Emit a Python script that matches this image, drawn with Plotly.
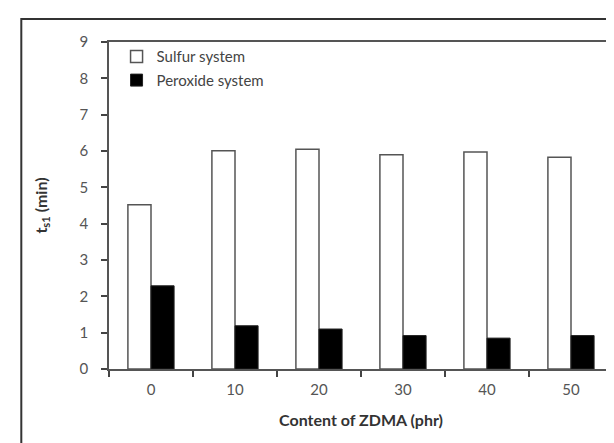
import plotly.graph_objects as go

categories = ["0", "10", "20", "30", "40", "50"]
sulfur = [4.52, 6.01, 6.05, 5.90, 5.97, 5.83]
peroxide = [2.29, 1.19, 1.10, 0.92, 0.85, 0.92]
y_ticks = [0, 1, 2, 3, 4, 5, 6, 7, 8, 9]

FONT = "Lato"

fig = go.Figure()
fig.add_trace(go.Bar(
    x=categories, y=sulfur, name="Sulfur system", legendgroup="s",
    marker=dict(color="white", line=dict(color="#555555", width=1.5)),
))
fig.add_trace(go.Bar(
    x=categories, y=peroxide, name="Peroxide system", legendgroup="p",
    marker=dict(color="black", line=dict(color="#222222", width=1)),
))

fig.update_layout(
    width=614, height=443,
    margin=dict(l=101, r=7, t=34, b=82),
    paper_bgcolor="white", plot_bgcolor="white",
    barmode="group", bargap=0.45, bargroupgap=0,
    font=dict(family=FONT, size=14, color="#444444"),
    showlegend=True,
    legend=dict(x=0.015, y=1.005, xanchor="left", yanchor="top",
                bgcolor="rgba(0,0,0,0)", font=dict(size=15, color="#444444"),
                tracegroupgap=1, itemwidth=30),
    xaxis=dict(
        type="category", tickson="boundaries",
        ticks="outside", ticklen=6, tickcolor="#444444", tickwidth=1.5,
        showline=True, linecolor="#555555", linewidth=1.5, mirror=True,
        showgrid=False, zeroline=False, ticklabelstandoff=6,
        tickfont=dict(size=15, color="#555555"),
        title=dict(text="<b>Content of ZDMA (phr)</b>", font=dict(size=16, color="#333333"), standoff=18),
    ),
    yaxis=dict(
        range=[0, 9], tickvals=y_ticks, ticks="outside", ticklen=6,
        tickcolor="#444444", tickwidth=1.5,
        showline=True, linecolor="#555555", linewidth=1.5, mirror=True,
        showgrid=False, zeroline=False, ticklabelstandoff=10,
        tickfont=dict(size=15, color="#555555"),
        title=dict(text="<b>t<sub>s1</sub> (min)</b>", font=dict(size=16, color="#333333"), standoff=28),
    ),
    shapes=[
        dict(type="path", xref="paper", yref="paper",
             path="M -0.174,-0.35 L -0.174,1.070 L 1.05,1.070",
             line=dict(color="#333333", width=2)),
    ],
)

fig.write_html("out.html")
